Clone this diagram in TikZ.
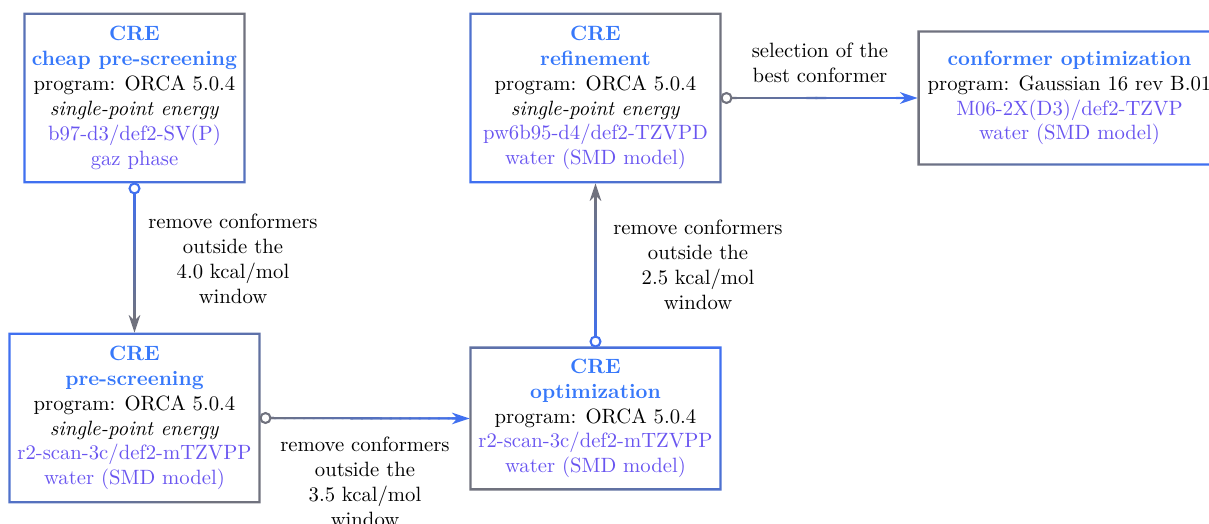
\documentclass[tikz,border=0pt]{standalone}
\usetikzlibrary{calc,arrows.meta}
\definecolor{cblue}{RGB}{64,112,240}
\definecolor{cgray}{RGB}{112,114,126}
\definecolor{ttlc}{RGB}{55,120,250}
\definecolor{mthc}{RGB}{105,85,240}
\newcommand\ttlx[1]{\textcolor{ttlc}{\bfseries #1}}
\newcommand\mthx[1]{\textcolor{mthc}{#1}}
\tikzset{
  box/.style={align=center, inner sep=0pt},
  lbl/.style={align=center, inner sep=0pt},
  conn/.style={line width=1pt},
}
% ring border with a gradient
\newcommand\ringbox[4]{%
  \shade[even odd rule, top color=#2, bottom color=#3, shading angle=#4]
    ($(#1.north west)+(-0.55pt,0.55pt)$) rectangle ($(#1.south east)+(0.55pt,-0.55pt)$)
    ($(#1.north west)+(0.55pt,-0.55pt)$) rectangle ($(#1.south east)+(-0.55pt,0.55pt)$);
}
% gradient connector: start anchor, end anchor, start colour, end colour
\newcommand\gconn[4]{%
  \coordinate (cs) at ($(#1)!2.95pt!(#2)$);
  \coordinate (ce) at ($(#2)!6pt!(#1)$);
  \draw[conn, #3!50!#4] (cs) -- (ce);
  \foreach \i in {0,...,19}{
    \pgfmathsetmacro\pa{\i/20}
    \pgfmathsetmacro\pb{(\i+1)/20}
    \pgfmathtruncatemacro\w{100-(\i+0.5)*5}
    \draw[conn, line cap=rect, #3!\w!#4] ($(cs)!\pa!(ce)$) -- ($(cs)!\pb!(ce)$);
  }
  \draw[conn, #4, -{Stealth[length=8.5pt,width=5.6pt,inset=2.6pt]}] ($(#2)!9pt!(#1)$) -- ($(#2)!0.5pt!(#1)$);
  \draw[conn, #3, fill=white] (cs) circle (2.4pt);
}
\begin{document}
\begin{tikzpicture}[x=0.01698cm, y=-0.01698cm]
\useasboundingbox (0,0) rectangle (1209,524);
\clip (0,0) rectangle (1209,524);

\node[box, minimum width=105.8pt, minimum height=81.1pt] (b1) at (134.5,98)
  {\ttlx{CRE}\\ \ttlx{cheap pre-screening}\\ program: ORCA 5.0.4\\ \textit{single-point energy}\\ \mthx{b97-d3/def2-SV(P)}\\ \mthx{gaz phase}};
\node[box, minimum width=120.3pt, minimum height=81.1pt] (b2) at (134.5,418)
  {\ttlx{CRE}\\ \ttlx{pre-screening}\\ program: ORCA 5.0.4\\ \textit{single-point energy}\\ \mthx{r2-scan-3c/def2-mTZVPP}\\ \mthx{water (SMD model)}};
\node[box, minimum width=120.3pt, minimum height=68.1pt] (b3) at (595.5,418.5)
  {\ttlx{CRE}\\ \ttlx{optimization}\\ program: ORCA 5.0.4\\ \mthx{r2-scan-3c/def2-mTZVPP}\\ \mthx{water (SMD model)}};
\node[box, minimum width=120.3pt, minimum height=81.1pt] (b4) at (595.5,98)
  {\ttlx{CRE}\\ \ttlx{refinement}\\ program: ORCA 5.0.4\\ \textit{single-point energy}\\ \mthx{pw6b95-d4/def2-TZVPD}\\ \mthx{water (SMD model)}};
\node[box, minimum width=145.4pt, minimum height=63.8pt] (b5) at (1069.5,98)
  {\ttlx{conformer optimization}\\ program: Gaussian 16 rev B.01\\ \mthx{M06-2X(D3)/def2-TZVP}\\ \mthx{water (SMD model)}};

\ringbox{b1}{cgray}{cblue}{-30}
\ringbox{b2}{cblue}{cgray}{45}
\ringbox{b3}{cblue}{cgray}{-45}
\ringbox{b4}{cgray}{cblue}{-45}
\ringbox{b5}{cgray}{cblue}{80}

\gconn{b1.south}{b2.north}{cblue}{cgray}
\gconn{b2.east}{b3.west}{cgray}{cblue}
\gconn{b3.north}{b4.south}{cblue}{cgray}
\gconn{b4.east}{b5.west}{cgray}{cblue}

\node[lbl] (l1) at (233,259) {remove conformers\\ outside the\\ 4.0 kcal/mol\\ window};
\node[lbl] (l2) at (365,482) {remove conformers\\ outside the\\ 3.5 kcal/mol\\ window};
\node[lbl] (l3) at (698,265) {remove conformers\\ outside the\\ 2.5 kcal/mol\\ window};
\node[lbl] (l4) at (820,62.5) {selection of the\\ best conformer};
\end{tikzpicture}
\end{document}
